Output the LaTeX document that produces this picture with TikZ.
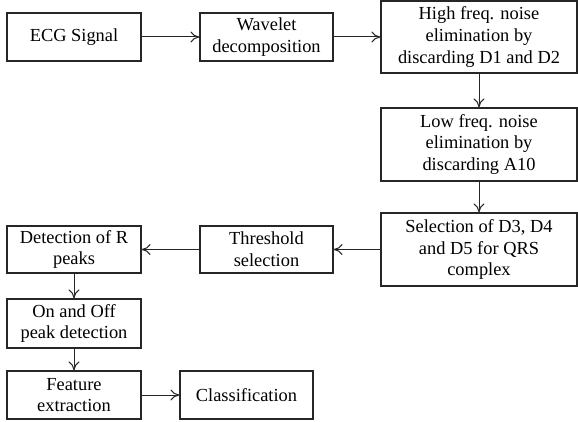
\documentclass[tikz,border=0pt]{standalone}
\usepackage{fontspec}
\setmainfont{Liberation Serif}
\usetikzlibrary{arrows.meta}

\begin{document}
\begin{tikzpicture}[x=1pt, y=-1pt,
    box/.style={draw=black!85, line width=1.1pt, inner sep=0pt, align=center,
      minimum width=134pt, minimum height=48pt,
      font=\fontsize{18.4}{21.7}\selectfont},
    tallbox/.style={box, minimum width=196pt, minimum height=73pt},
    flow/.style={draw=black!85, line width=1pt, -{To[length=9pt,width=11pt]}}]
      \useasboundingbox (0,0) rectangle (578,422);
      \node[box] (ecg) at (74, 37) {ECG Signal};
      \node[box, minimum width=133pt] (wavelet) at (266.5, 37) {Wavelet\\decomposition};
      \node[tallbox, minimum height=72pt] (highfreq) at (479, 37) {High freq. noise\\elimination by\\discarding D1 and D2};
      \node[tallbox] (lowfreq) at (479, 144.5) {Low freq. noise\\elimination by\\discarding A10};
      \node[tallbox] (select) at (479, 249.5) {Selection of D3, D4\\and D5 for QRS\\complex};
      \node[box, minimum width=133pt, minimum height=47pt] (thresh) at (266.5, 249.5) {Threshold\\selection};
      \node[box, minimum height=47pt] (rpeaks) at (74, 249.5) {Detection of R\\peaks};
      \node[box, minimum height=49pt] (onoff) at (74, 323.5) {On and Off\\peak detection};
      \node[box] (feature) at (74, 395) {Feature\\extraction};
      \node[box, minimum width=133pt] (classify) at (246.5, 395) {Classification};
      \draw[flow] (ecg) -- (wavelet);
      \draw[flow] (wavelet) -- (highfreq);
      \draw[flow] (highfreq) -- (lowfreq);
      \draw[flow] (lowfreq) -- (select);
      \draw[flow] (select) -- (thresh);
      \draw[flow] (thresh) -- (rpeaks);
      \draw[flow] (rpeaks) -- (onoff);
      \draw[flow] (onoff) -- (feature);
      \draw[flow] (feature) -- (classify);
\end{tikzpicture}
\end{document}
